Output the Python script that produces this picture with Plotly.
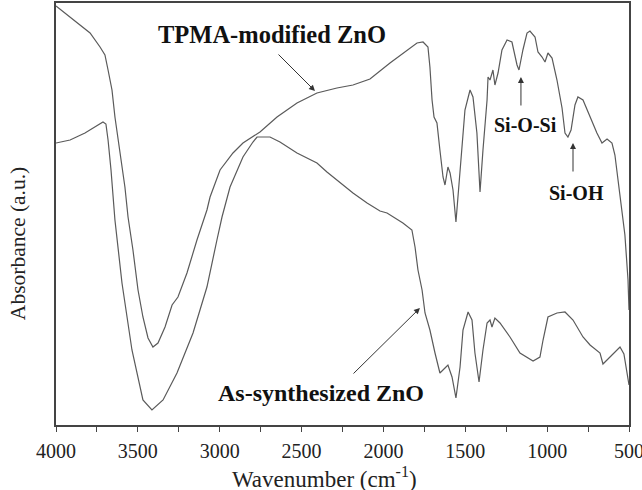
import plotly.graph_objects as go

# Wavenumber (cm^-1) and absorbance (a.u.)
tpma_wn = [4000, 3853, 3792, 3731, 3701, 3682, 3658, 3640, 3609, 3579, 3560, 3530, 3499, 3469, 3438,
           3408, 3377, 3334, 3291, 3255, 3200, 3139, 3078, 3059, 2998, 2919, 2858, 2797, 2754, 2650,
           2528, 2406, 2284, 2186, 2082, 1960, 1881, 1795, 1758, 1728, 1716, 1703, 1691, 1673, 1655,
           1636, 1624, 1606, 1593, 1575, 1557, 1532, 1502, 1471, 1453, 1429, 1410, 1392, 1367, 1361,
           1349, 1331, 1319, 1300, 1276, 1245, 1215, 1184, 1172, 1148, 1123, 1105, 1074, 1056, 1031,
           1013, 995, 970, 940, 909, 891, 873, 854, 830, 812, 781, 738, 696, 665, 634, 604, 586, 567,
           543, 525, 506, 500]
tpma_abs = [4.19, 4.00, 3.92, 3.78, 3.70, 3.55, 3.35, 3.08, 2.72, 2.38, 2.08, 1.75, 1.35, 1.08, 0.87,
            0.78, 0.82, 0.98, 1.20, 1.28, 1.52, 1.85, 2.15, 2.28, 2.55, 2.72, 2.82, 2.88, 2.93, 3.08,
            3.22, 3.32, 3.37, 3.40, 3.46, 3.62, 3.72, 3.82, 3.83, 3.78, 3.58, 3.25, 3.08, 3.02, 2.75,
            2.48, 2.40, 2.58, 2.52, 2.35, 2.03, 2.58, 3.15, 3.35, 3.28, 2.92, 2.33, 2.75, 3.25, 3.48,
            3.45, 3.55, 3.40, 3.52, 3.75, 3.85, 3.83, 3.60, 3.55, 3.75, 3.92, 3.94, 3.88, 3.73, 3.68,
            3.63, 3.72, 3.67, 3.45, 3.17, 2.92, 2.88, 2.95, 3.20, 3.28, 3.25, 3.08, 2.92, 2.82, 2.86,
            2.82, 2.70, 2.45, 2.15, 1.90, 1.45, 1.15]

asyn_wn = [4000, 3914, 3823, 3762, 3713, 3695, 3682, 3664, 3640, 3597, 3536, 3469, 3414, 3346, 3261,
           3163, 3078, 3017, 2986, 2937, 2858, 2797, 2772, 2693, 2632, 2528, 2406, 2345, 2284, 2186,
           2100, 2021, 1978, 1881, 1826, 1807, 1789, 1764, 1746, 1716, 1685, 1655, 1624, 1606, 1581,
           1557, 1532, 1514, 1483, 1459, 1441, 1416, 1392, 1367, 1349, 1337, 1319, 1288, 1227, 1166,
           1086, 1044, 1025, 995, 940, 891, 842, 781, 738, 677, 659, 616, 555, 531, 506, 500]
asyn_abs = [2.82, 2.85, 2.92, 2.98, 3.03, 3.01, 2.85, 2.55, 2.05, 1.42, 0.75, 0.25, 0.15, 0.25, 0.52,
            0.92, 1.38, 1.85, 2.08, 2.38, 2.68, 2.83, 2.88, 2.88, 2.83, 2.72, 2.62, 2.53, 2.45, 2.32,
            2.22, 2.14, 2.12, 2.02, 1.95, 1.78, 1.55, 1.35, 1.12, 0.95, 0.72, 0.52, 0.57, 0.60, 0.48,
            0.27, 0.58, 0.95, 1.13, 1.05, 0.72, 0.43, 0.75, 1.02, 1.05, 0.98, 1.07, 1.02, 0.88, 0.72,
            0.64, 0.68, 0.85, 1.08, 1.12, 1.13, 1.05, 0.88, 0.80, 0.72, 0.61, 0.68, 0.78, 0.71, 0.47,
            0.40]

x_ticks = [4000, 3500, 3000, 2500, 2000, 1500, 1000, 500]
x_title = "Wavenumber (cm<sup>-1</sup>)"
y_title = "Absorbance (a.u.)"

SERIF = "Liberation Serif, Times New Roman, serif"
LINE = "#5a5a5a"

fig = go.Figure()
fig.add_trace(go.Scatter(x=tpma_wn, y=tpma_abs, mode="lines", name="TPMA-modified ZnO",
                         line=dict(color=LINE, width=1.2)))
fig.add_trace(go.Scatter(x=asyn_wn, y=asyn_abs, mode="lines", name="As-synthesized ZnO",
                         line=dict(color=LINE, width=1.2)))

def label(text, x, y, size):
    fig.add_annotation(x=x, y=y, xref="x", yref="y", text=f"<b>{text}</b>", showarrow=False,
                       font=dict(family=SERIF, size=size, color="#111"))

def arrow(x0, y0, x1, y1):
    fig.add_annotation(x=x1, y=y1, ax=x0, ay=y0, xref="x", yref="y", axref="x", ayref="y",
                       text="", showarrow=True, arrowhead=2, arrowsize=1.2, arrowwidth=1,
                       arrowcolor="#333")

label("TPMA-modified ZnO", 2681, 3.91, 24.5)
label("As-synthesized ZnO", 2381, 0.32, 24)
label("Si-O-Si", 1135, 3.00, 20)
label("Si-OH", 818, 2.32, 20)
arrow(2650, 3.72, 2418, 3.34)
arrow(2192, 0.50, 1777, 1.17)
arrow(1160, 3.18, 1160, 3.48)
arrow(842, 2.52, 842, 2.82)

# axis titles (placed as in the reference, slightly off-centre)
fig.add_annotation(x=0.469, y=-0.086, xref="paper", yref="paper", xanchor="center", yanchor="top",
                   text=x_title, showarrow=False, font=dict(family=SERIF, size=23, color="#222"))
fig.add_annotation(x=-0.066, y=0.429, xref="paper", yref="paper", xanchor="center", yanchor="middle",
                   text=y_title, textangle=-90, showarrow=False,
                   font=dict(family=SERIF, size=21.5, color="#222"))

fig.update_layout(
    width=642, height=490,
    margin=dict(l=56, r=13, t=3, b=65),
    paper_bgcolor="white", plot_bgcolor="white",
    showlegend=False,
    font=dict(family=SERIF, color="#222"),
)
fig.update_xaxes(
    range=[4000, 500], tickvals=x_ticks, ticks="outside", ticklen=5, tickwidth=1.2,
    tickcolor="#444", showline=True, linecolor="#444", linewidth=1.5, mirror=True,
    showgrid=False, zeroline=False, ticklabelstandoff=2, ticklabeloverflow="allow",
    automargin=False,
    tickfont=dict(family=SERIF, size=20, color="#222"),
    minor=dict(dtick=250, ticks="outside", ticklen=5, tickwidth=1.2, tickcolor="#444", showgrid=False),
)
fig.update_yaxes(
    range=[0, 4.22], showticklabels=False, ticks="", showline=True, linecolor="#444",
    linewidth=1.5, mirror=True, showgrid=False, zeroline=False, automargin=False,
)

fig.write_html("out.html")
